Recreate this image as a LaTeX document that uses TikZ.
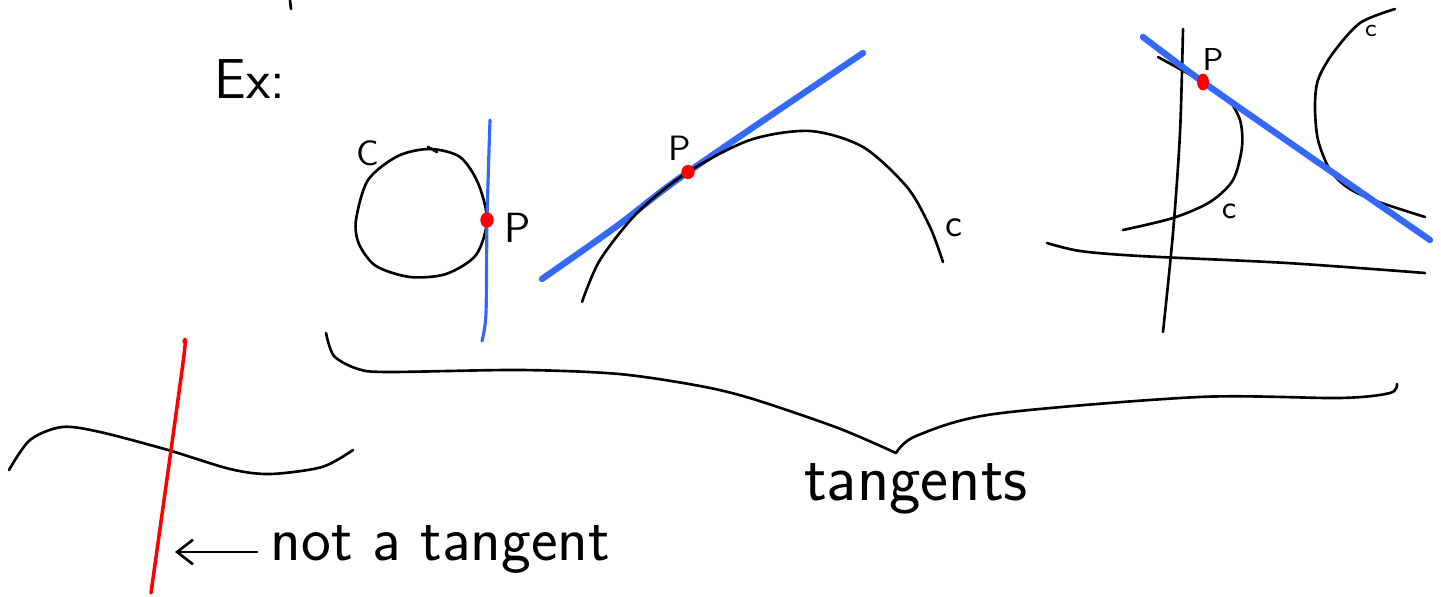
\documentclass[tikz,border=0pt]{standalone}
\usepackage{tikz}
\usetikzlibrary{arrows.meta}
\definecolor{penblue}{RGB}{52,104,248}
\begin{document}
\begin{tikzpicture}[x=0.01cm, y=-0.01cm, line cap=round, line join=round,
    curve/.style={black, line width=0.75pt},
    tangent/.style={penblue, line width=1.8pt},
    thintangent/.style={penblue, line width=0.9pt},
    nottangent/.style={red, line width=1pt},
    touch/.style={red},
    lbl/.style={inner sep=0pt, font=\sffamily\fontsize{#1}{#1}\selectfont},
    lbl/.default=9]
  \useasboundingbox (0,0) rectangle (1441,597);

  % stray mark at top
  \draw[curve] (290,0) -- (291,9);
  \node[lbl=16, anchor=base west] (ex) at (214,98) {Ex:};

  % Circle and its tangent
  \draw[curve] plot[smooth cycle] coordinates {(356,220) (368,180) (398,156) (430,149) (460,157)
    (478,183) (487,220) (476,255) (446,274) (410,277) (376,266) (359,244)};
  \draw[curve] (428,147) -- (437,152);
  \node[lbl=10] (c1) at (368,153) {C};
  \coordinate (p1) at (487,220);
  \draw[thintangent] plot[smooth] coordinates {(490,120) (p1) (486,313) (482,341)};
  \fill[touch] (p1) ellipse (1.9pt and 2.2pt);
  \node[lbl=12] (lp1) at (518,228) {P};

  % Arc and its tangent
  \coordinate (p2) at (688,172);
  \draw[tangent] plot[smooth] coordinates {(542,279) (617,226) (p2) (863,53)};
  \draw[curve] plot[smooth] coordinates {(582,302) (600,260) (638,212) (p2) (750,140) (810,131)
    (863,147) (907,187) (930,227) (943,262)};
  \fill[touch] (p2) ellipse (1.9pt and 2pt);
  \node[lbl=10] (lp2) at (680,148) {P};
  \node[lbl=11] (c2) at (954,228) {c};

  % Axes, two branches and a common tangent
  \draw[curve] plot[smooth] coordinates {(1183,29) (1180,133) (1173,233) (1163,332)};
  \draw[curve] plot[smooth] coordinates {(1047,243) (1080,251) (1140,256) (1287,263) (1425,273)};
  \coordinate (p3) at (1203,82);
  \draw[curve] plot[smooth] coordinates {(1158,57) (p3) (1227,98) (1240,120) (1242,147) (1233,180)
    (1210,202) (1173,218) (1123,230)};
  \draw[curve] plot[smooth] coordinates {(1395,9) (1360,23) (1333,53) (1318,80) (1315,107) (1318,140)
    (1330,170) (1347,187) (1373,200) (1425,217)};
  \draw[tangent] plot[smooth] coordinates {(1143,37) (p3) (1283,138) (1430,240)};
  \fill[touch] (p3) ellipse (1.7pt and 2.4pt);
  \node[lbl=9] (lp3) at (1213,60) {P};
  \node[lbl=9] (c3) at (1229,211) {c};
  \node[lbl=7] (c4) at (1371,31) {c};

  % Brace
  \coordinate (tip) at (896,453);
  \draw[curve] plot[smooth] coordinates {(326,333) (334,356) (358,369) (389,372) (520,370) (619,374)
    (700,386) (753,399) (838,428) (tip)};
  \draw[curve] plot[smooth] coordinates {(tip) (916,436) (994,414) (1199,397) (1340,398)
    (1390,393) (1397,384)};
  \node[lbl=19, anchor=base] (tg) at (916,500) {tangents};

  % Not a tangent
  \draw[curve] plot[smooth] coordinates {(9,470) (30,440) (62,427) (100,432) (168,450) (230,469)
    (270,474) (322,467) (353,450)};
  \draw[nottangent] plot[smooth] coordinates {(184,342) (183,363) (151,593)};
  \node[lbl=18, anchor=base west] (nt) at (270,560) {not a tangent};
  \coordinate (tail) at (257,552);
  \coordinate (head) at (175,552);
  \draw[curve, -{Straight Barb[length=4.5pt, width=7pt]}] (tail) -- (head);
\end{tikzpicture}
\end{document}
